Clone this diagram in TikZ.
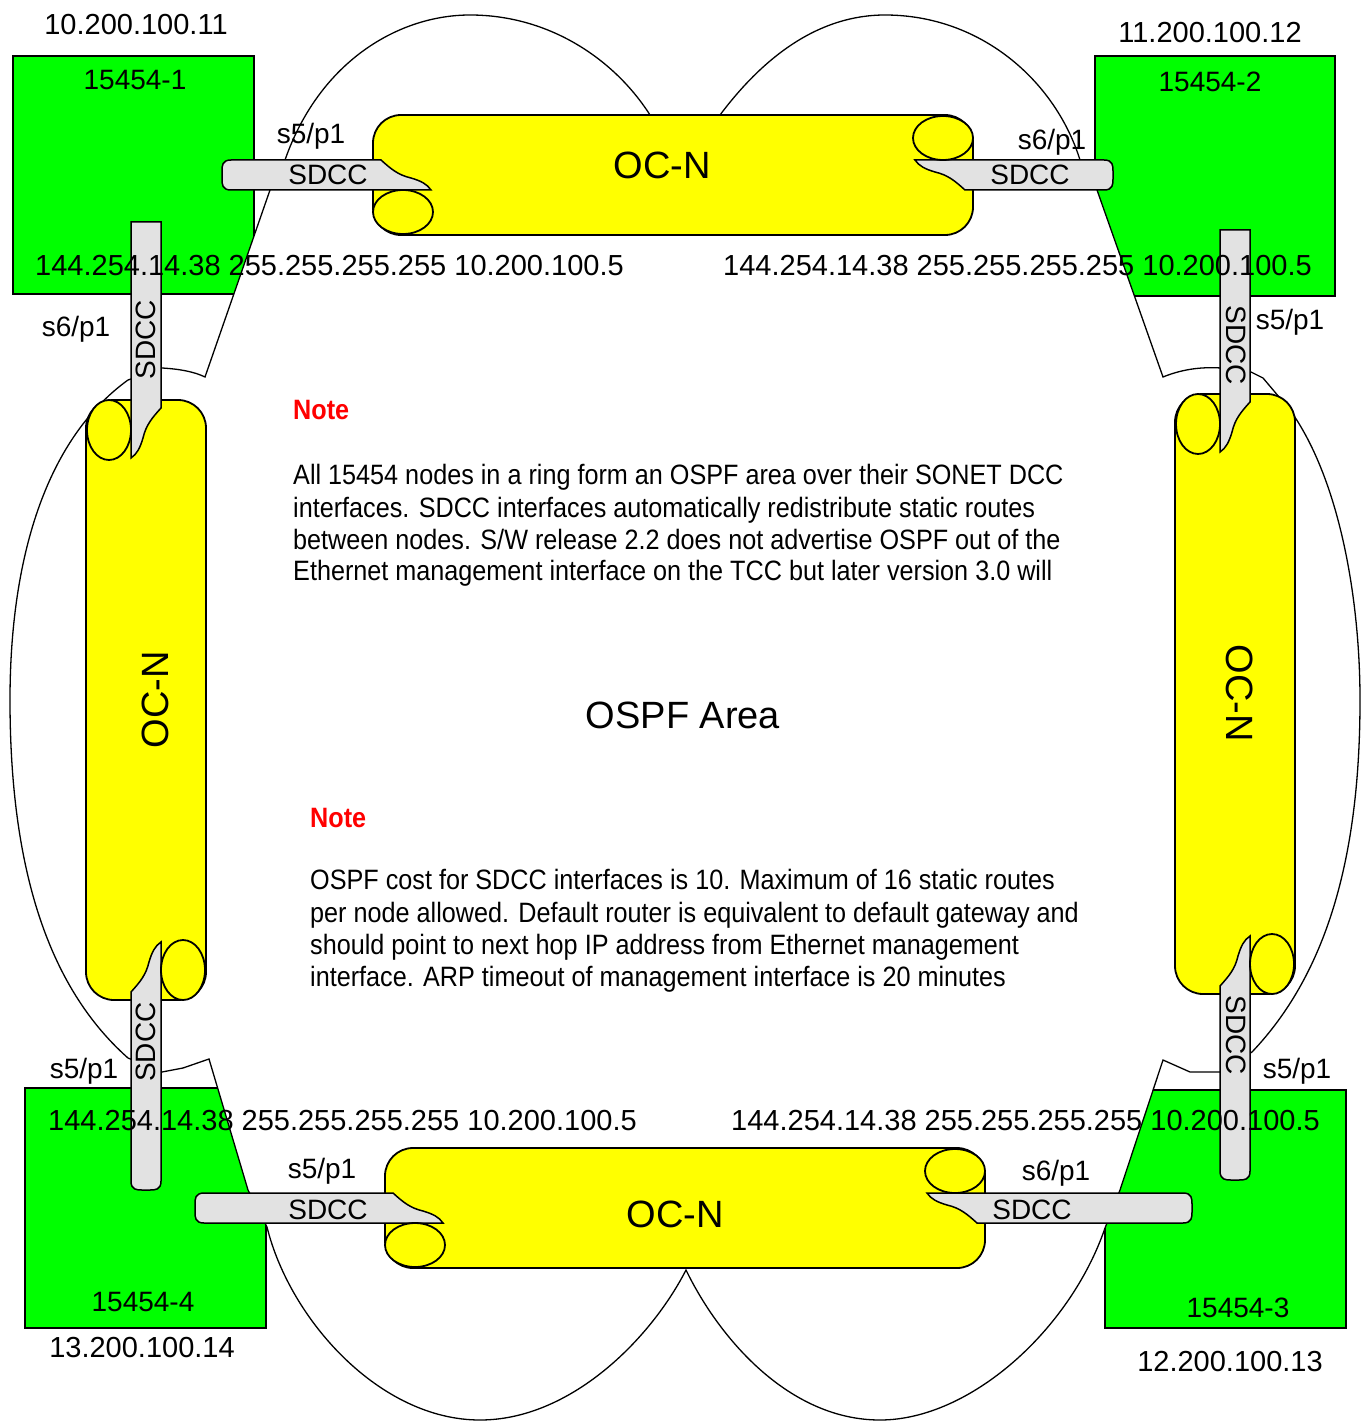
\documentclass[tikz,border=0pt]{standalone}
\usepackage{fontspec}
\setmainfont{Liberation Sans}
\newfontfamily\notefont[FakeStretch=0.9]{Liberation Sans}
\definecolor{boxgreen}{HTML}{00FF00}
\definecolor{tubey}{HTML}{FFFF00}
\definecolor{barg}{HTML}{E2E2E2}
\newcommand\barround[1]{%
  \filldraw[barsty] (-292,-15) -- ({#1+9},-15) .. controls (#1,-15) and (#1,-9) .. (#1,-4) -- (#1,4) .. controls (#1,9) and (#1,15) .. ({#1+9},15) -- (-242,15) .. controls (-246,9) and (-252,6) .. (-262,3) .. controls (-275,0) and (-282,-6) .. (-292,-15) -- cycle;}
\newcommand\barsquare[1]{%
  \filldraw[barsty] (-292,-15) -- (#1,-15) -- (#1,15) -- (-242,15) .. controls (-246,9) and (-252,6) .. (-262,3) .. controls (-275,0) and (-282,-6) .. (-292,-15) -- cycle;}
\newcommand\tubebody{%
  \filldraw[tubesty, rounded corners=28pt] (-300,-60) rectangle (300,60);}
\newcommand\tubelobe{%
  \filldraw[tubesty] (-270,37) ellipse [x radius=30, y radius=22];}
\begin{document}
\begin{tikzpicture}[x=1pt,y=-1pt,
  box/.style={draw=black, line width=2pt, fill=boxgreen, rectangle, inner sep=0pt},
  tubesty/.style={draw=black, line width=1.8pt, fill=tubey},
  barsty/.style={draw=black, line width=1.5pt, fill=barg},
  cloudsty/.style={draw=black, line width=1.3pt, fill=white},
  lbl/.style={font=\fontsize{28}{32}\selectfont, inner sep=0pt, anchor=base},
  addr/.style={font=\fontsize{29}{32}\selectfont, inner sep=0pt, anchor=base},
  ipl/.style={font=\fontsize{29}{32}\selectfont, inner sep=0pt, anchor=base west},
  sdcc/.style={font=\fontsize{28}{32}\selectfont, inner sep=0pt},
  ocn/.style={font=\fontsize{38}{40}\selectfont, inner sep=0pt},
  notet/.style={font=\notefont\bfseries\fontsize{28}{32}\selectfont, text=red, inner sep=0pt, anchor=base west},
  notel/.style={font=\notefont\fontsize{28}{32}\selectfont, inner sep=0pt, anchor=base west}]
\useasboundingbox (0,0) rectangle (1361,1423);
\fill[white] (0,0) rectangle (1361,1423);

% boxes
\node[box, minimum width=241pt, minimum height=238pt] (b1) at (133.5,175) {};
\node[box, minimum width=240pt, minimum height=240pt] (b2) at (1215,176) {};
\node[box, minimum width=241pt, minimum height=240pt] (b4) at (145.5,1208) {};
\node[box, minimum width=241pt, minimum height=238pt] (b3) at (1225.5,1209) {};

% OSPF area cloud
\draw[cloudsty] (205,377) -- (270,190) -- (285,160)
  .. controls (320,60) and (400,15) .. (470,15)
  .. controls (550,15) and (615,60) .. (650,115)
  -- (685,150) -- (720,115)
  .. controls (765,55) and (820,15) .. (885,15)
  .. controls (980,15) and (1055,80) .. (1080,160)
  -- (1097,190) -- (1163,377)
  .. controls (1185,368) and (1205,367) .. (1221,368)
  -- (1251,372) -- (1263,378) -- (1290,410)
  .. controls (1340,480) and (1360,600) .. (1360,700)
  .. controls (1360,850) and (1330,970) .. (1252,1052)
  -- (1221,1072) -- (1190,1072) -- (1163,1060)
  -- (1120,1190) -- (1105,1228)
  .. controls (1070,1330) and (970,1420) .. (880,1420)
  .. controls (790,1420) and (720,1340) .. (686,1270)
  .. controls (650,1340) and (570,1420) .. (480,1420)
  .. controls (380,1420) and (290,1320) .. (267,1227)
  -- (248,1190) -- (209,1059) -- (183,1068) -- (162,1072) -- (128,1058)
  .. controls (40,980) and (10,850) .. (10,700)
  .. controls (10,560) and (45,440) .. (128,380)
  -- (162,368) .. controls (180,369) and (195,372) .. (205,377) -- cycle;

% top tube
\begin{scope}[shift={(673,175)}]
  \tubebody \barround{-451} \tubelobe
  \begin{scope}[rotate=180] \barround{-440} \tubelobe \end{scope}
\end{scope}
% bottom tube
\begin{scope}[shift={(685,1208)}]
  \tubebody \barround{-490} \tubelobe
  \begin{scope}[rotate=180] \barround{-507} \tubelobe \end{scope}
\end{scope}
% left tube
\begin{scope}[shift={(146,700)}, rotate=-90]
  \tubebody \barsquare{-478} \tubelobe
  \begin{scope}[rotate=180] \barround{-490} \tubelobe \end{scope}
\end{scope}
% right tube
\begin{scope}[shift={(1235,694)}, rotate=-90]
  \tubebody \barsquare{-464} \tubelobe
  \begin{scope}[rotate=180] \barround{-486} \tubelobe \end{scope}
\end{scope}

% addresses and names
\node[addr] (a1) at (136,35) {10.200.100.11};
\node[addr] (a2) at (1210,43) {11.200.100.12};
\node[addr] (a4) at (142,1357) {13.200.100.14};
\node[addr] (a3) at (1230,1371) {12.200.100.13};
\node[lbl] (n1) at (135,90) {15454-1};
\node[lbl] (n2) at (1210,92) {15454-2};
\node[lbl] (n4) at (143,1311) {15454-4};
\node[lbl] (n3) at (1238,1317) {15454-3};

% IP lines
\node[ipl] (ip1) at (35,276) {144.254.14.38 255.255.255.255 10.200.100.5};
\node[ipl] (ip2) at (723,276) {144.254.14.38 255.255.255.255 10.200.100.5};
\node[ipl] (ip4) at (48,1130) {144.254.14.38 255.255.255.255 10.200.100.5};
\node[ipl] (ip3) at (731,1130) {144.254.14.38 255.255.255.255 10.200.100.5};

% ports
\node[lbl] (p1) at (311,144) {s5/p1};
\node[lbl] (p2) at (1052,150) {s6/p1};
\node[lbl] (p3) at (76,336) {s6/p1};
\node[lbl] (p4) at (1290,329) {s5/p1};
\node[lbl] (p5) at (84,1078) {s5/p1};
\node[lbl] (p6) at (1297,1078) {s5/p1};
\node[lbl] (p7) at (322,1178) {s5/p1};
\node[lbl] (p8) at (1056,1180) {s6/p1};

% SDCC labels
\node[sdcc] (s1) at (328,175) {SDCC};
\node[sdcc] (s2) at (1030,175) {SDCC};
\node[sdcc] (s3) at (328,1210) {SDCC};
\node[sdcc] (s4) at (1032,1210) {SDCC};
\node[sdcc, rotate=90] (s5) at (146,340) {SDCC};
\node[sdcc, rotate=-90] (s6) at (1236,345) {SDCC};
\node[sdcc, rotate=90] (s7) at (146,1042) {SDCC};
\node[sdcc, rotate=-90] (s8) at (1236,1035) {SDCC};

% OC-N labels
\node[ocn] (o1) at (662,165) {OC-N};
\node[ocn] (o2) at (675,1214) {OC-N};
\node[ocn, rotate=90] (o3) at (155,700) {OC-N};
\node[ocn, rotate=-90] (o4) at (1240,693) {OC-N};

\node[ocn] (area) at (683,715) {OSPF Area};

% notes
\node[notet] (nt1) at (293,419) {Note};
\node[notel] (l11) at (293,484) {All 15454 nodes in a ring form an OSPF area over their SONET DCC};
\node[notel] (l12) at (293,517) {interfaces. SDCC interfaces automatically redistribute static routes};
\node[notel] (l13) at (293,549) {between nodes. S/W release 2.2 does not advertise OSPF out of the};
\node[notel] (l14) at (293,580) {Ethernet management interface on the TCC but later version 3.0 will};
\node[notet] (nt2) at (310,827) {Note};
\node[notel] (l21) at (310,889) {OSPF cost for SDCC interfaces is 10. Maximum of 16 static routes};
\node[notel] (l22) at (310,922) {per node allowed. Default router is equivalent to default gateway and};
\node[notel] (l23) at (310,954) {should point to next hop IP address from Ethernet management};
\node[notel] (l24) at (310,986) {interface. ARP timeout of management interface is 20 minutes};
\end{tikzpicture}
\end{document}
